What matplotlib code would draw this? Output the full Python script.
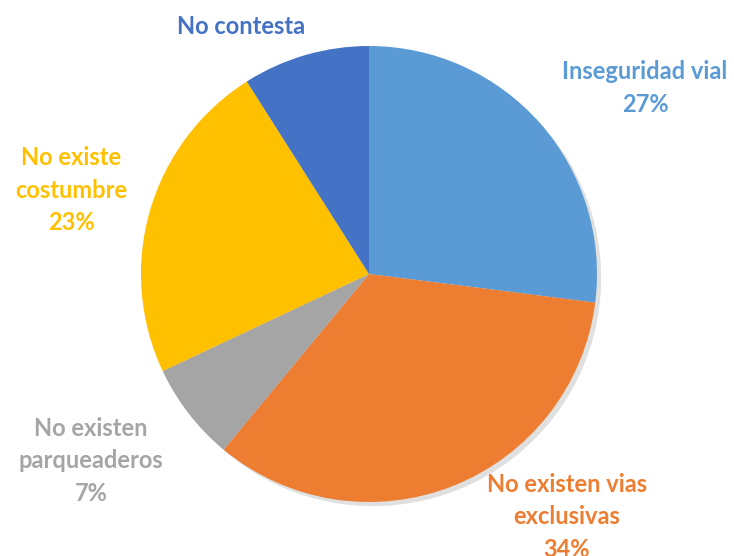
import matplotlib
matplotlib.use("Agg")
import matplotlib.pyplot as plt
from matplotlib.patches import Shadow

# data
categories = ["Inseguridad vial", "No existen vias\nexclusivas", "No existen\nparqueaderos",
              "No existe\ncostumbre", "No contesta"]
values = [27, 34, 7, 23, 9]
show_pct = [True, True, True, True, False]
colors = ["#5B9BD5", "#ED7D31", "#A5A5A5", "#FFC000", "#4472C4"]

# label placement (pixel coords, y measured from top)
label_pos = [(645, 88), (567, 517), (91, 461), (71, 190), (241, 26)]

W, H = 734, 556
fig = plt.figure(figsize=(W / 100, H / 100), dpi=100)
ax = fig.add_axes([0, 0, 1, 1])

cx, cy, r = 369, H - 274, 228
wedges, _ = ax.pie(values, colors=colors, startangle=90, counterclock=False,
                   center=(cx, cy), radius=r, frame=True,
                   wedgeprops=dict(linewidth=0))
ax.set_xlim(0, W)
ax.set_ylim(0, H)
ax.set_aspect("equal")
ax.axis("off")

# soft shadow like the office chart
for w in wedges:
    s = Shadow(w, 3, -3, alpha=0.12)
    s.set_zorder(w.get_zorder() - 1)
    s.set_facecolor("black")
    ax.add_patch(s)

for cat, v, sp, col, (px, py) in zip(categories, values, show_pct, colors, label_pos):
    txt = cat + ("\n%d%%" % v if sp else "")
    ax.text(px, H - py, txt, ha="center", va="center", color=col,
            fontsize=17, fontweight="bold", family=["Lato", "DejaVu Sans"],
            linespacing=1.5)

fig.savefig("out.png", dpi=100)
